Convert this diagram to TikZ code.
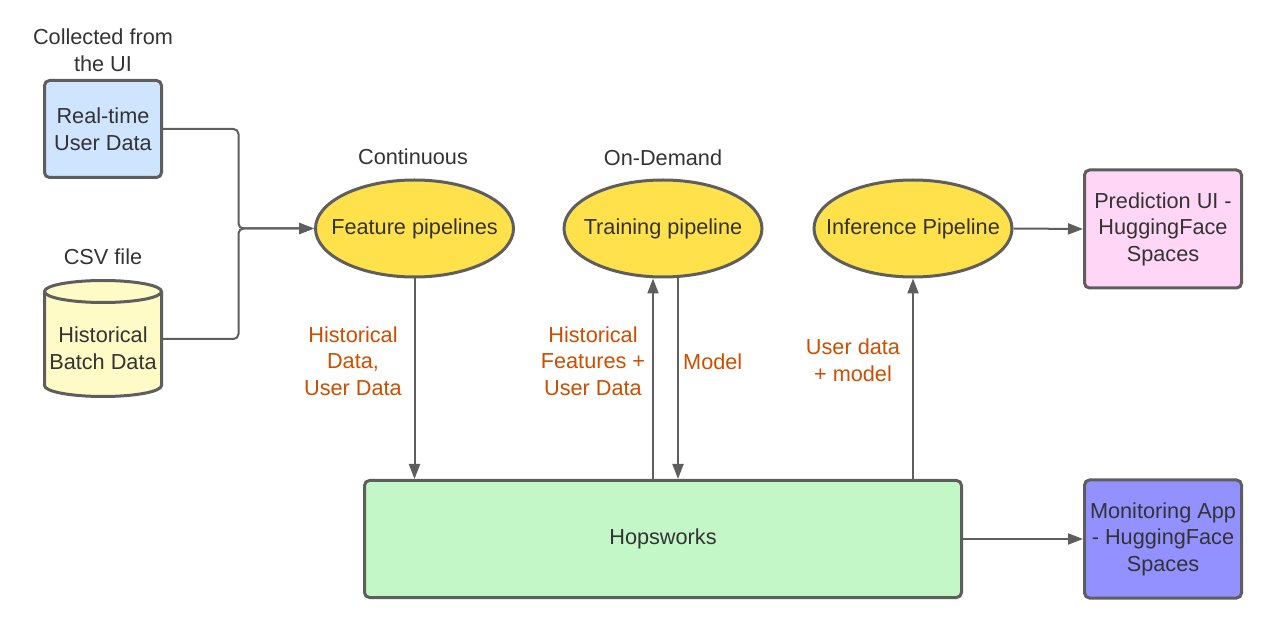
\documentclass[tikz,border=0pt]{standalone}
\usepackage{fontspec}
\setmainfont{Liberation Sans}
\usetikzlibrary{shapes.geometric,arrows.meta}
\definecolor{ln}{HTML}{5E5E5E}
\definecolor{txt}{HTML}{333333}
\definecolor{org}{HTML}{CC4E00}
\definecolor{blu}{HTML}{CFE4FF}
\definecolor{ylw}{HTML}{FFE14B}
\definecolor{cre}{HTML}{FFFBC7}
\definecolor{grn}{HTML}{C3F7C8}
\definecolor{pnk}{HTML}{FFD6F5}
\definecolor{prp}{HTML}{9391FF}
\begin{document}
\begin{tikzpicture}[x=1pt,y=-1pt, font=\fontsize{21.7}{26.5}\selectfont, text=txt,
 box/.style={draw=ln, line width=3pt, rounded corners=5pt, inner sep=0pt, align=center},
 pipe/.style={ellipse, draw=ln, line width=3pt, fill=ylw, minimum width=198pt, minimum height=97pt, inner sep=0pt, align=center},
 lbl/.style={align=center, inner sep=0pt},
 olbl/.style={lbl, text=org},
 conn/.style={draw=ln, line width=2pt, -{Triangle[length=15pt,width=11pt]}},
]
\useasboundingbox (0,0) rectangle (1267,617);

% sources
\node[box, fill=blu, minimum width=117pt, minimum height=97pt] (rt) at (103,129) {Real-time\\User Data};
\node[lbl] (rtl) at (103,50) {Collected from\\the UI};

\path[draw=ln, line width=3pt, fill=cre] (44.5,291.5) -- (44.5,385.5)
  arc[start angle=180, end angle=360, x radius=58.5pt, y radius=11pt] -- (161.5,291.5)
  arc[start angle=0, end angle=180, x radius=58.5pt, y radius=11pt] -- cycle;
\draw[ln, line width=3pt] (44.5,291.5) arc[start angle=180, end angle=360, x radius=58.5pt, y radius=11pt];
\node[lbl] (hb) at (103,348) {Historical\\Batch Data};
\coordinate (cylE) at (161.5,339);
\node[lbl] (csv) at (103,257) {CSV file};

% pipelines
\node[pipe] (fp) at (414.5,228.5) {\makebox[0pt]{Feature pipelines}};
\node[pipe] (tp) at (663,228.5) {\makebox[0pt]{Training pipeline}};
\node[pipe] (ip) at (913,228.5) {\makebox[0pt]{Inference Pipeline}};
\node[lbl] (cont) at (413,157) {Continuous};
\node[lbl] (od) at (663,158) {On-Demand};

% outputs
\node[box, fill=pnk, minimum width=157pt, minimum height=118pt] (pred) at (1163,229) {Prediction UI -\\HuggingFace\\Spaces};
\node[box, fill=prp, minimum width=157pt, minimum height=118pt] (mon) at (1163,539) {Monitoring App\\- HuggingFace\\Spaces};
\node[box, fill=grn, minimum width=597pt, minimum height=117pt] (hops) at (663,539) {Hopsworks};

% connectors
\coordinate (jn) at (238.5,228.5);
\draw[conn, rounded corners=5pt] (rt.east) -| (jn) -- (fp.west);
\draw[conn, rounded corners=5pt] (cylE) -| (jn) -- (fp.west);

\draw[conn] (fp.south) -- (fp.south |- hops.north);
\draw[conn] (hops.north -| 653,0) -- (tp.south -| 653,0);
\draw[conn] (tp.south -| 678,0) -- (hops.north -| 678,0);
\draw[conn] (hops.north -| ip.south) -- (ip.south);
\draw[conn] (ip.east) -- (pred.west);
\draw[conn] (hops.east) -- (mon.west);

% labels
\node[olbl] (l1) at (353,361) {Historical\\Data,\\User Data};
\node[olbl] (l2) at (593,361) {Historical\\Features +\\User Data};
\node[olbl, anchor=west] (l3) at (683,362) {Model};
\node[olbl] (l4) at (853,360) {User data\\+ model};
\end{tikzpicture}
\end{document}
